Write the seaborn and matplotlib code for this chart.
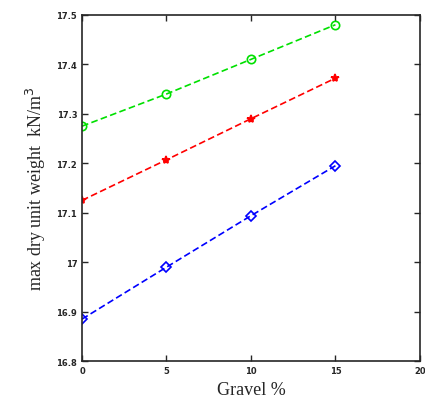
import numpy as np
import pandas as pd
import seaborn as sns
import matplotlib.pyplot as plt

# Values
gravel = [0, 5, 10, 15]
green_vals = [17.275, 17.34, 17.41, 17.48]
red_vals = [17.125, 17.207, 17.29, 17.372]
blue_vals = [16.885, 16.99, 17.094, 17.195]

series_names = ["green", "red", "blue"]
colors = ["#00e000", "#ff0000", "#0000ff"]
markers = ["o", "*", "D"]

df = pd.DataFrame({
    "gravel": gravel * 3,
    "weight": green_vals + red_vals + blue_vals,
    "series": [n for n in series_names for _ in gravel],
})

sns.set_style("ticks")

fig = plt.figure(figsize=(4.25, 4.06), dpi=100)
ax = fig.add_axes([0.193, 0.108, 0.795, 0.853])

sns.lineplot(data=df, x="gravel", y="weight", hue="series", style="series",
             palette=dict(zip(series_names, colors)),
             markers=dict(zip(series_names, markers)),
             dashes={n: (4, 2) for n in series_names},
             markersize=6, linewidth=1.2, legend=False, ax=ax)

# open markers in the series colour (red star is filled)
for line in ax.get_lines():
    c = line.get_color()
    line.set_markeredgecolor(c)
    line.set_markeredgewidth(1.2)
    if line.get_marker() == "*":
        line.set_markerfacecolor(c)
    else:
        line.set_markerfacecolor("none")
    if line.get_marker() == "D":
        line.set_markersize(5)

ax.set_xlim(0, 20)
ax.set_ylim(16.8, 17.5)
ax.set_xticks([0, 5, 10, 15, 20])
ax.set_yticks(np.arange(16.8, 17.51, 0.1))
ax.set_yticklabels(["16.8", "16.9", "17", "17.1", "17.2", "17.3", "17.4", "17.5"])
ax.tick_params(direction="in", top=True, right=True, labelsize=6, length=4, width=1)
for lab in ax.get_xticklabels() + ax.get_yticklabels():
    lab.set_fontweight("bold")
for sp in ax.spines.values():
    sp.set_linewidth(1.2)

ax.set_xlabel("Gravel %", family=["Liberation Serif", "DejaVu Serif"], fontsize=13)
ax.set_ylabel("max dry unit weight  kN/m$^3$", family=["Liberation Serif", "DejaVu Serif"],
              fontsize=13, labelpad=6)

fig.savefig("out.png", dpi=100)
